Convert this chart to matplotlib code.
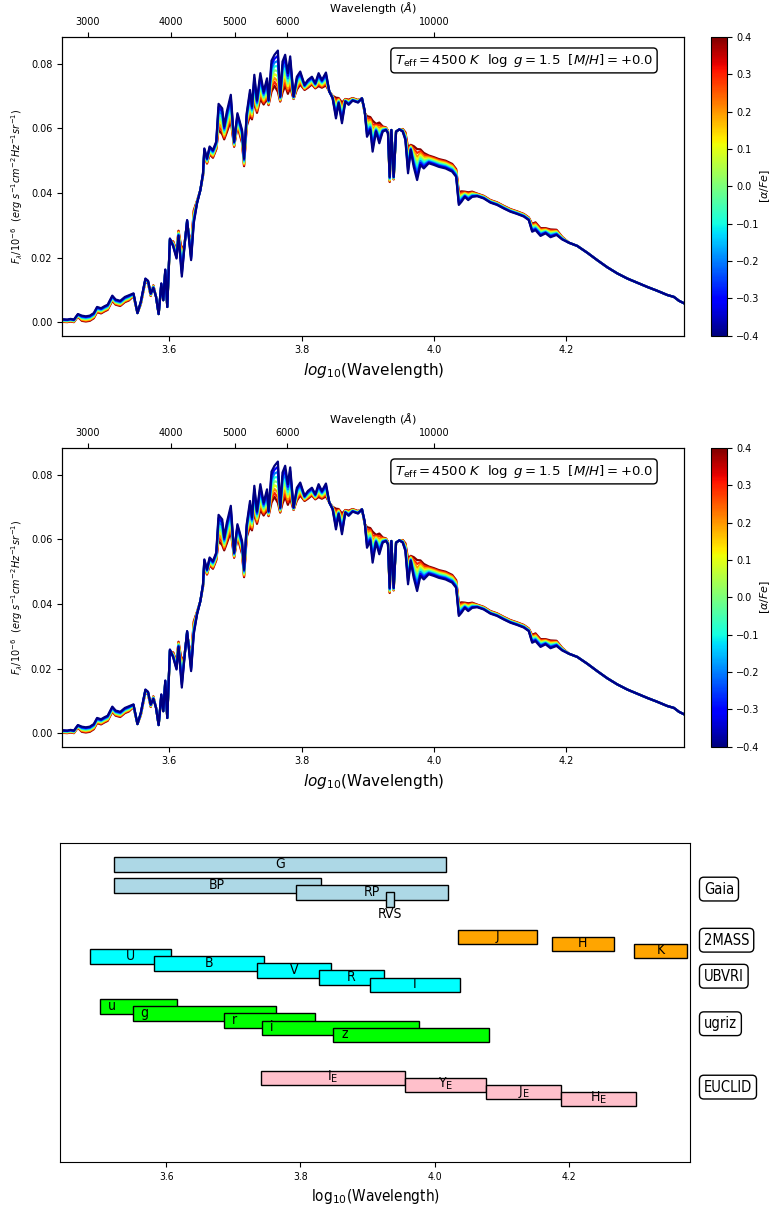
import numpy as np
import matplotlib
matplotlib.use("Agg")
import matplotlib.pyplot as plt
from matplotlib import cm, colors
from matplotlib.transforms import blended_transform_factory

# ------------------------------------------------------------------
# spectra (flux in units of 1e-3), one per [alpha/Fe]
# ------------------------------------------------------------------
log_wave = [
    3.438, 3.446, 3.451, 3.456, 3.462, 3.468, 3.474, 3.480, 3.486, 3.491,
    3.497, 3.502, 3.507, 3.514, 3.519, 3.526, 3.533, 3.539, 3.546, 3.552,
    3.557, 3.564, 3.568, 3.572, 3.576, 3.580, 3.584, 3.588, 3.591, 3.594,
    3.597, 3.601, 3.606, 3.611, 3.614, 3.619, 3.623, 3.627, 3.633, 3.637,
    3.642, 3.647, 3.651, 3.653, 3.657, 3.661, 3.666, 3.671, 3.6745, 3.680,
    3.683, 3.687, 3.693, 3.698, 3.703, 3.710, 3.713, 3.717, 3.722, 3.725,
    3.7285, 3.7325, 3.7376, 3.7426, 3.7477, 3.7500, 3.7545, 3.7590, 3.7641, 3.7676,
    3.7711, 3.7751, 3.7792, 3.7827, 3.7878, 3.7928, 3.7979, 3.8044, 3.8095, 3.8155,
    3.8206, 3.8256, 3.8306, 3.8367, 3.8418, 3.8468, 3.8518, 3.8559, 3.8609, 3.8660,
    3.8710, 3.8770, 3.8851, 3.8911, 3.8951, 3.8987, 3.9037, 3.9072, 3.9123, 3.9173,
    3.9224, 3.9274, 3.9304, 3.9330, 3.9355, 3.9390, 3.9426, 3.9476, 3.9527, 3.9567,
    3.9607, 3.9648, 3.9693, 3.9744, 3.9794, 3.9845, 3.9920, 3.9996, 4.0072, 4.0173,
    4.0274, 4.0334, 4.0374, 4.0415, 4.0465, 4.0516, 4.0576, 4.0652, 4.0751, 4.0852,
    4.0952, 4.1053, 4.1154, 4.1255, 4.1356, 4.1431, 4.1482, 4.1532, 4.1608, 4.1684,
    4.1759, 4.1850, 4.1936,
]
# near-IR tail where all [alpha/Fe] curves coincide
log_wave_tail = [4.2037, 4.2163, 4.2314, 4.2465, 4.2616, 4.2767, 4.2919,
                 4.3070, 4.3221, 4.3372, 4.3523, 4.3624, 4.3700, 4.378]
flux_tail = [24.6, 23.6, 21.5, 19.2, 17.0, 15.1, 13.5,
             12.2, 10.9, 9.7, 8.4, 7.8, 6.6, 5.8]

flux_am04 = [
    0.9, 0.8, 1.0, 0.8, 2.5, 2.0, 1.8, 2.0, 2.8, 4.7,
    4.3, 4.9, 5.4, 8.2, 7.0, 6.6, 7.8, 8.3, 8.9, 2.8,
    6.3, 13.5, 12.8, 8.9, 10.6, 7.9, 2.5, 12.0, 6.8, 16.3,
    4.7, 25.9, 23.4, 19.7, 26.7, 14.1, 23.4, 31.6, 19.2, 30.6,
    36.8, 40.9, 46.1, 53.8, 50.7, 54.4, 53.3, 55.9, 67.6, 66.2,
    60.6, 65.2, 70.4, 55.9, 64.7, 59.5, 50.7, 64.7, 71.9, 66.8,
    76.6, 68.8, 77.1, 71.4, 75.5, 68.8, 81.0, 82.8, 84.1, 69.9,
    80.7, 82.8, 77.1, 82.3, 69.9, 76.0, 77.6, 73.5, 75.0, 76.0,
    74.0, 77.1, 75.0, 77.3, 71.4, 69.3, 63.1, 67.8, 61.6, 68.3,
    67.3, 68.6, 68.0, 69.3, 65.7, 57.4, 59.5, 52.8, 59.0, 55.4,
    59.0, 59.5, 58.5, 45.0, 59.5, 45.0, 59.0, 59.7, 59.0, 56.4,
    46.1, 53.3, 48.1, 44.0, 48.7, 47.6, 49.2, 48.7, 48.1, 47.6,
    46.6, 45.0, 36.3, 37.3, 38.8, 37.8, 38.8, 39.0, 38.3, 37.0,
    36.3, 35.2, 34.2, 33.5, 32.7, 31.6, 28.0, 28.5, 26.7, 27.5,
    26.3, 27.0, 25.6,
]
flux_am03 = [
    0.8, 0.7, 0.9, 0.7, 2.4, 1.8, 1.6, 1.8, 2.6, 4.5,
    4.1, 4.7, 5.2, 8.0, 6.8, 6.4, 7.6, 8.1, 8.8, 2.8,
    6.2, 13.4, 12.7, 8.8, 10.7, 7.9, 2.5, 11.9, 6.8, 16.2,
    4.7, 25.8, 23.6, 20.0, 26.9, 15.1, 23.5, 31.5, 19.7, 31.1,
    36.9, 40.9, 46.0, 53.6, 50.5, 54.1, 53.0, 55.6, 66.6, 65.2,
    60.1, 64.4, 69.4, 55.7, 64.2, 59.0, 50.4, 64.2, 70.9, 66.3,
    75.6, 68.3, 76.1, 70.9, 74.7, 68.6, 79.8, 81.6, 82.5, 69.7,
    79.5, 81.6, 76.3, 81.1, 69.8, 75.5, 77.1, 73.3, 74.7, 75.7,
    73.8, 76.6, 74.7, 76.8, 71.4, 69.4, 63.9, 68.0, 62.4, 68.4,
    67.5, 68.7, 68.1, 69.3, 65.6, 58.2, 60.0, 54.0, 59.3, 56.2,
    59.2, 59.6, 58.6, 44.8, 59.5, 44.9, 59.0, 59.7, 59.1, 56.7,
    47.1, 53.5, 48.9, 45.2, 49.3, 48.2, 49.5, 49.0, 48.4, 47.9,
    46.9, 45.3, 36.8, 37.7, 39.0, 38.1, 39.0, 39.1, 38.4, 37.1,
    36.4, 35.3, 34.3, 33.6, 32.8, 31.7, 28.3, 28.8, 27.0, 27.7,
    26.6, 27.2, 25.7,
]
flux_am02 = [
    0.7, 0.6, 0.8, 0.6, 2.3, 1.6, 1.4, 1.6, 2.4, 4.3,
    3.9, 4.5, 5.0, 7.8, 6.6, 6.2, 7.4, 7.9, 8.7, 2.8,
    6.1, 13.3, 12.6, 8.7, 10.8, 7.9, 2.5, 11.8, 6.8, 16.1,
    4.7, 25.7, 23.8, 20.3, 27.1, 16.1, 23.6, 31.4, 20.2, 31.6,
    37.0, 40.9, 45.9, 53.4, 50.3, 53.8, 52.7, 55.3, 65.6, 64.2,
    59.6, 63.6, 68.4, 55.5, 63.7, 58.5, 50.1, 63.7, 69.9, 65.8,
    74.6, 67.8, 75.1, 70.4, 73.9, 68.4, 78.6, 80.4, 80.9, 69.5,
    78.3, 80.4, 75.5, 79.9, 69.7, 75.0, 76.6, 73.1, 74.4, 75.4,
    73.6, 76.1, 74.4, 76.3, 71.4, 69.5, 64.7, 68.2, 63.2, 68.5,
    67.7, 68.8, 68.2, 69.3, 65.5, 59.0, 60.5, 55.2, 59.6, 57.0,
    59.4, 59.7, 58.7, 44.6, 59.5, 44.8, 59.0, 59.7, 59.2, 57.0,
    48.1, 53.7, 49.7, 46.4, 49.9, 48.8, 49.8, 49.3, 48.7, 48.2,
    47.2, 45.6, 37.3, 38.1, 39.2, 38.4, 39.2, 39.2, 38.5, 37.2,
    36.5, 35.4, 34.4, 33.7, 32.9, 31.8, 28.6, 29.1, 27.3, 27.9,
    26.9, 27.4, 25.8,
]
flux_am01 = [
    0.6, 0.5, 0.7, 0.5, 2.2, 1.4, 1.2, 1.4, 2.2, 4.1,
    3.7, 4.3, 4.8, 7.6, 6.4, 6.0, 7.2, 7.7, 8.6, 2.8,
    6.0, 13.2, 12.5, 8.6, 10.9, 7.9, 2.5, 11.7, 6.8, 16.0,
    4.7, 25.6, 24.0, 20.6, 27.3, 17.1, 23.7, 31.3, 20.7, 32.1,
    37.1, 40.9, 45.8, 53.2, 50.1, 53.5, 52.4, 55.0, 64.6, 63.2,
    59.1, 62.8, 67.4, 55.3, 63.2, 58.0, 49.8, 63.2, 68.9, 65.3,
    73.6, 67.3, 74.1, 69.9, 73.1, 68.2, 77.4, 79.2, 79.3, 69.3,
    77.1, 79.2, 74.7, 78.7, 69.6, 74.5, 76.1, 72.9, 74.1, 75.1,
    73.4, 75.6, 74.1, 75.8, 71.4, 69.6, 65.5, 68.4, 64.0, 68.6,
    67.9, 68.9, 68.3, 69.3, 65.4, 59.8, 61.0, 56.4, 59.9, 57.8,
    59.6, 59.8, 58.8, 44.4, 59.5, 44.7, 59.0, 59.7, 59.3, 57.3,
    49.1, 53.9, 50.5, 47.6, 50.5, 49.4, 50.1, 49.6, 49.0, 48.5,
    47.5, 45.9, 37.8, 38.5, 39.4, 38.7, 39.4, 39.3, 38.6, 37.3,
    36.6, 35.5, 34.5, 33.8, 33.0, 31.9, 28.9, 29.4, 27.6, 28.1,
    27.2, 27.6, 25.9,
]
flux_a00 = [
    0.5, 0.4, 0.6, 0.4, 2.1, 1.2, 1.0, 1.2, 2.0, 3.9,
    3.5, 4.1, 4.6, 7.4, 6.2, 5.8, 7.0, 7.5, 8.5, 2.8,
    5.9, 13.1, 12.4, 8.5, 11.0, 7.9, 2.5, 11.6, 6.8, 15.9,
    4.7, 25.5, 24.2, 20.9, 27.5, 18.1, 23.8, 31.2, 21.2, 32.6,
    37.2, 40.9, 45.7, 53.0, 49.9, 53.2, 52.1, 54.7, 63.6, 62.2,
    58.6, 62.0, 66.4, 55.1, 62.7, 57.5, 49.5, 62.7, 67.9, 64.8,
    72.6, 66.8, 73.1, 69.4, 72.3, 68.0, 76.2, 78.0, 77.7, 69.1,
    75.9, 78.0, 73.9, 77.5, 69.5, 74.0, 75.6, 72.7, 73.8, 74.8,
    73.2, 75.1, 73.8, 75.3, 71.4, 69.7, 66.3, 68.6, 64.8, 68.7,
    68.1, 69.0, 68.4, 69.3, 65.3, 60.6, 61.5, 57.6, 60.2, 58.6,
    59.8, 59.9, 58.9, 44.2, 59.5, 44.6, 59.0, 59.7, 59.4, 57.6,
    50.1, 54.1, 51.3, 48.8, 51.1, 50.0, 50.4, 49.9, 49.3, 48.8,
    47.8, 46.2, 38.3, 38.9, 39.6, 39.0, 39.6, 39.4, 38.7, 37.4,
    36.7, 35.6, 34.6, 33.9, 33.1, 32.0, 29.2, 29.7, 27.9, 28.3,
    27.5, 27.8, 26.0,
]
flux_ap01 = [
    0.4, 0.3, 0.5, 0.3, 2.0, 1.0, 0.8, 1.0, 1.8, 3.7,
    3.3, 3.9, 4.4, 7.2, 6.0, 5.6, 6.8, 7.3, 8.4, 2.8,
    5.8, 13.0, 12.3, 8.4, 11.1, 7.9, 2.5, 11.5, 6.8, 15.8,
    4.7, 25.4, 24.4, 21.2, 27.7, 19.1, 23.9, 31.1, 21.7, 33.1,
    37.3, 40.9, 45.6, 52.8, 49.7, 52.9, 51.8, 54.4, 62.6, 61.2,
    58.1, 61.2, 65.4, 54.9, 62.2, 57.0, 49.2, 62.2, 66.9, 64.3,
    71.6, 66.3, 72.1, 68.9, 71.5, 67.8, 75.0, 76.8, 76.1, 68.9,
    74.7, 76.8, 73.1, 76.3, 69.4, 73.5, 75.1, 72.5, 73.5, 74.5,
    73.0, 74.6, 73.5, 74.8, 71.4, 69.8, 67.1, 68.8, 65.6, 68.8,
    68.3, 69.1, 68.5, 69.3, 65.2, 61.4, 62.0, 58.8, 60.5, 59.4,
    60.0, 60.0, 59.0, 44.0, 59.5, 44.5, 59.0, 59.7, 59.5, 57.9,
    51.1, 54.3, 52.1, 50.0, 51.7, 50.6, 50.7, 50.2, 49.6, 49.1,
    48.1, 46.5, 38.8, 39.3, 39.8, 39.3, 39.8, 39.5, 38.8, 37.5,
    36.8, 35.7, 34.7, 34.0, 33.2, 32.1, 29.5, 30.0, 28.2, 28.5,
    27.8, 28.0, 26.1,
]
flux_ap02 = [
    0.3, 0.2, 0.4, 0.2, 1.9, 0.8, 0.6, 0.8, 1.6, 3.5,
    3.1, 3.7, 4.2, 7.0, 5.8, 5.4, 6.6, 7.1, 8.3, 2.8,
    5.7, 12.9, 12.2, 8.3, 11.2, 7.9, 2.5, 11.4, 6.8, 15.7,
    4.7, 25.3, 24.6, 21.5, 27.9, 20.1, 24.0, 31.0, 22.2, 33.6,
    37.4, 40.9, 45.5, 52.6, 49.5, 52.6, 51.5, 54.1, 61.6, 60.2,
    57.6, 60.4, 64.4, 54.7, 61.7, 56.5, 48.9, 61.7, 65.9, 63.8,
    70.6, 65.8, 71.1, 68.4, 70.7, 67.6, 73.8, 75.6, 74.5, 68.7,
    73.5, 75.6, 72.3, 75.1, 69.3, 73.0, 74.6, 72.3, 73.2, 74.2,
    72.8, 74.1, 73.2, 74.3, 71.4, 69.9, 67.9, 69.0, 66.4, 68.9,
    68.5, 69.2, 68.6, 69.3, 65.1, 62.2, 62.5, 60.0, 60.8, 60.2,
    60.2, 60.1, 59.1, 43.8, 59.5, 44.4, 59.0, 59.7, 59.6, 58.2,
    52.1, 54.5, 52.9, 51.2, 52.3, 51.2, 51.0, 50.5, 49.9, 49.4,
    48.4, 46.8, 39.3, 39.7, 40.0, 39.6, 40.0, 39.6, 38.9, 37.6,
    36.9, 35.8, 34.8, 34.1, 33.3, 32.2, 29.8, 30.3, 28.5, 28.7,
    28.1, 28.2, 26.2,
]
flux_ap03 = [
    0.2, 0.1, 0.3, 0.1, 1.8, 0.6, 0.4, 0.6, 1.4, 3.3,
    2.9, 3.5, 4.0, 6.8, 5.6, 5.2, 6.4, 6.9, 8.2, 2.8,
    5.6, 12.8, 12.1, 8.2, 11.3, 7.9, 2.5, 11.3, 6.8, 15.6,
    4.7, 25.2, 24.8, 21.8, 28.1, 21.1, 24.1, 30.9, 22.7, 34.1,
    37.5, 40.9, 45.4, 52.4, 49.3, 52.3, 51.2, 53.8, 60.6, 59.2,
    57.1, 59.6, 63.4, 54.5, 61.2, 56.0, 48.6, 61.2, 64.9, 63.3,
    69.6, 65.3, 70.1, 67.9, 69.9, 67.4, 72.6, 74.4, 72.9, 68.5,
    72.3, 74.4, 71.5, 73.9, 69.2, 72.5, 74.1, 72.1, 72.9, 73.9,
    72.6, 73.6, 72.9, 73.8, 71.4, 70.0, 68.7, 69.2, 67.2, 69.0,
    68.7, 69.3, 68.7, 69.3, 65.0, 63.0, 63.0, 61.2, 61.1, 61.0,
    60.4, 60.2, 59.2, 43.6, 59.5, 44.3, 59.0, 59.7, 59.7, 58.5,
    53.1, 54.7, 53.7, 52.4, 52.9, 51.8, 51.3, 50.8, 50.2, 49.7,
    48.7, 47.1, 39.8, 40.1, 40.2, 39.9, 40.2, 39.7, 39.0, 37.7,
    37.0, 35.9, 34.9, 34.2, 33.4, 32.3, 30.1, 30.6, 28.8, 28.9,
    28.4, 28.4, 26.3,
]
flux_ap04 = [
    0.1, 0.0, 0.2, 0.0, 1.7, 0.4, 0.2, 0.4, 1.2, 3.1,
    2.7, 3.3, 3.8, 6.6, 5.4, 5.0, 6.2, 6.7, 8.1, 2.8,
    5.5, 12.7, 12.0, 8.1, 11.4, 7.9, 2.5, 11.2, 6.8, 15.5,
    4.7, 25.1, 25.0, 22.1, 28.3, 22.1, 24.2, 30.8, 23.2, 34.6,
    37.6, 40.9, 45.3, 52.2, 49.1, 52.0, 50.9, 53.5, 59.6, 58.2,
    56.6, 58.8, 62.4, 54.3, 60.7, 55.5, 48.3, 60.7, 63.9, 62.8,
    68.6, 64.8, 69.1, 67.4, 69.1, 67.2, 71.4, 73.2, 71.3, 68.3,
    71.1, 73.2, 70.7, 72.7, 69.1, 72.0, 73.6, 71.9, 72.6, 73.6,
    72.4, 73.1, 72.6, 73.3, 71.4, 70.1, 69.5, 69.4, 68.0, 69.1,
    68.9, 69.4, 68.8, 69.3, 64.9, 63.8, 63.5, 62.4, 61.4, 61.8,
    60.6, 60.3, 59.3, 43.4, 59.5, 44.2, 59.0, 59.7, 59.8, 58.8,
    54.1, 54.9, 54.5, 53.6, 53.5, 52.4, 51.6, 51.1, 50.5, 50.0,
    49.0, 47.4, 40.3, 40.5, 40.4, 40.2, 40.4, 39.8, 39.1, 37.8,
    37.1, 36.0, 35.0, 34.3, 33.5, 32.4, 30.4, 30.9, 29.1, 29.1,
    28.7, 28.6, 26.4,
]

alpha_values = [-0.4, -0.3, -0.2, -0.1, 0.0, 0.1, 0.2, 0.3, 0.4]
alpha_fluxes = [flux_am04, flux_am03, flux_am02, flux_am01, flux_a00,
                flux_ap01, flux_ap02, flux_ap03, flux_ap04]

top_ticks_aa = [3000, 4000, 5000, 6000, 10000]
star_label = r"$T_{\rm eff}=4500\ K$  $\log\ g=1.5$  $[M/H]=+0.0$"

# ------------------------------------------------------------------
# photometric filters: log10 wavelength coverage
# ------------------------------------------------------------------
filter_names = ["G", "BP", "RP", "RVS",
                "J", "H", "K",
                "U", "B", "V", "R", "I",
                "u", "g", "r", "i", "z",
                r"I$_{\rm E}$", r"Y$_{\rm E}$", r"J$_{\rm E}$", r"H$_{\rm E}$"]
filter_lo = [3.522, 3.522, 3.793, 3.928,
             4.035, 4.174, 4.297,
             3.487, 3.582, 3.735, 3.827, 3.903,
             3.501, 3.550, 3.686, 3.743, 3.849,
             3.742, 3.955, 4.077, 4.188]
filter_hi = [4.017, 3.830, 4.020, 3.940,
             4.152, 4.267, 4.376,
             3.607, 3.746, 3.846, 3.925, 4.038,
             3.616, 3.764, 3.821, 3.976, 4.081,
             3.955, 4.077, 4.188, 4.300]
filter_system = ["Gaia"] * 4 + ["2MASS"] * 3 + ["UBVRI"] * 5 + ["ugriz"] * 5 + ["EUCLID"] * 4

systems = ["Gaia", "2MASS", "UBVRI", "ugriz", "EUCLID"]
system_colors = {"Gaia": "lightblue", "2MASS": "orange", "UBVRI": "cyan",
                 "ugriz": "lime", "EUCLID": "pink"}

# layout of the filter panel (rows in half-bar units, top of each bar)
bar_rows = [2.0, 4.9, 5.9, 6.85,
            12.05, 13.05, 14.0,
            14.75, 15.75, 16.7, 17.7, 18.7,
            21.7, 22.7, 23.65, 24.7, 25.65,
            31.6, 32.6, 33.6, 34.55]
system_label_rows = [6.4, 13.5, 18.5, 25.1, 33.9]
BAR_H = 2.0

W, H = 773, 1207
fig = plt.figure(figsize=(W / 100, H / 100), dpi=100)

norm = colors.Normalize(vmin=-0.4, vmax=0.4)
cmap = plt.get_cmap("jet")
wave = np.array(log_wave + log_wave_tail)


def draw_spectrum(top_px):
    bottom_px = top_px + 298.7
    ax = fig.add_axes([62 / W, 1 - bottom_px / H, 622.3 / W, 298.7 / H])
    # draw alpha-rich first so the alpha-poor curve sits on top
    for a, f in reversed(list(zip(alpha_values, alpha_fluxes))):
        flux = np.array(f + flux_tail) * 1e-3
        ax.plot(wave, flux, color=cmap(norm(a)), lw=1.6)
    ax.set_xlim(wave.min(), wave.max())
    ax.set_xticks([3.6, 3.8, 4.0, 4.2])
    ax.tick_params(labelsize=7)
    ax.set_xlabel(r"$log_{10}$(Wavelength)", fontsize=11)
    ax.set_ylabel(r"$F_{\lambda}/10^{-6}$  $(erg\ s^{-1}cm^{-2}Hz^{-1}sr^{-1})$",
                  fontsize=7)
    ax.text(0.95, 0.95, star_label, transform=ax.transAxes, ha="right", va="top",
            fontsize=9.5, bbox=dict(boxstyle="round", fc="white", ec="k"))

    top = ax.twiny()
    top.set_xlim(ax.get_xlim())
    top.set_xticks(np.log10(top_ticks_aa))
    top.set_xticklabels([str(t) for t in top_ticks_aa])
    top.tick_params(labelsize=7)
    top.set_xlabel(r"Wavelength ($\AA$)", fontsize=8)

    cax = fig.add_axes([711 / W, 1 - bottom_px / H, 15.7 / W, 298.7 / H])
    sm = cm.ScalarMappable(norm=norm, cmap=cmap)
    cb = fig.colorbar(sm, cax=cax, ticks=alpha_values)
    cb.set_label(r"$[\alpha/Fe]$", fontsize=8, labelpad=-1)
    cax.tick_params(labelsize=7)
    return ax


draw_spectrum(37)
draw_spectrum(448)

# ------------------------------------------------------------------
# filter coverage panel
# ------------------------------------------------------------------
cond = dict(family="DejaVu Sans", stretch="condensed")
ax3 = fig.add_axes([60 / W, 1 - 1162 / H, 630 / W, 319 / H])
for name, lo, hi, sysname, row in zip(filter_names, filter_lo, filter_hi,
                                      filter_system, bar_rows):
    ax3.barh(row, hi - lo, left=lo, height=BAR_H, align="edge",
             color=system_colors[sysname], edgecolor="k", lw=1)
    yc = row + BAR_H / 2
    if name == "RVS":
        ax3.text((lo + hi) / 2, row + BAR_H + 1.0, name, ha="center", va="center",
                 fontsize=10, **cond)
    elif sysname == "ugriz":
        ax3.text(lo + 0.012, yc - 0.1, name, ha="left", va="center",
                 fontsize=10, **cond)
    else:
        ax3.text((lo + hi) / 2, yc - 0.1, name, ha="center", va="center",
                 fontsize=10, **cond)

trans = blended_transform_factory(ax3.transAxes, ax3.transData)
for sysname, yrow in zip(systems, system_label_rows):
    ax3.text(1.022, yrow, sysname, transform=trans, ha="left", va="center",
             fontsize=10.5, bbox=dict(boxstyle="round", fc="white", ec="k"), **cond)

ax3.set_xlim(3.442, 4.380)
ax3.set_ylim(44.3, 0)
ax3.set_yticks([])
ax3.set_xticks([3.6, 3.8, 4.0, 4.2])
for lab in ax3.get_xticklabels():
    lab.set_fontsize(7.5)
    lab.set_fontstretch("condensed")
ax3.set_xlabel(r"log$_{10}$(Wavelength)", fontsize=11, **cond)

fig.savefig("out.png", dpi=100)
